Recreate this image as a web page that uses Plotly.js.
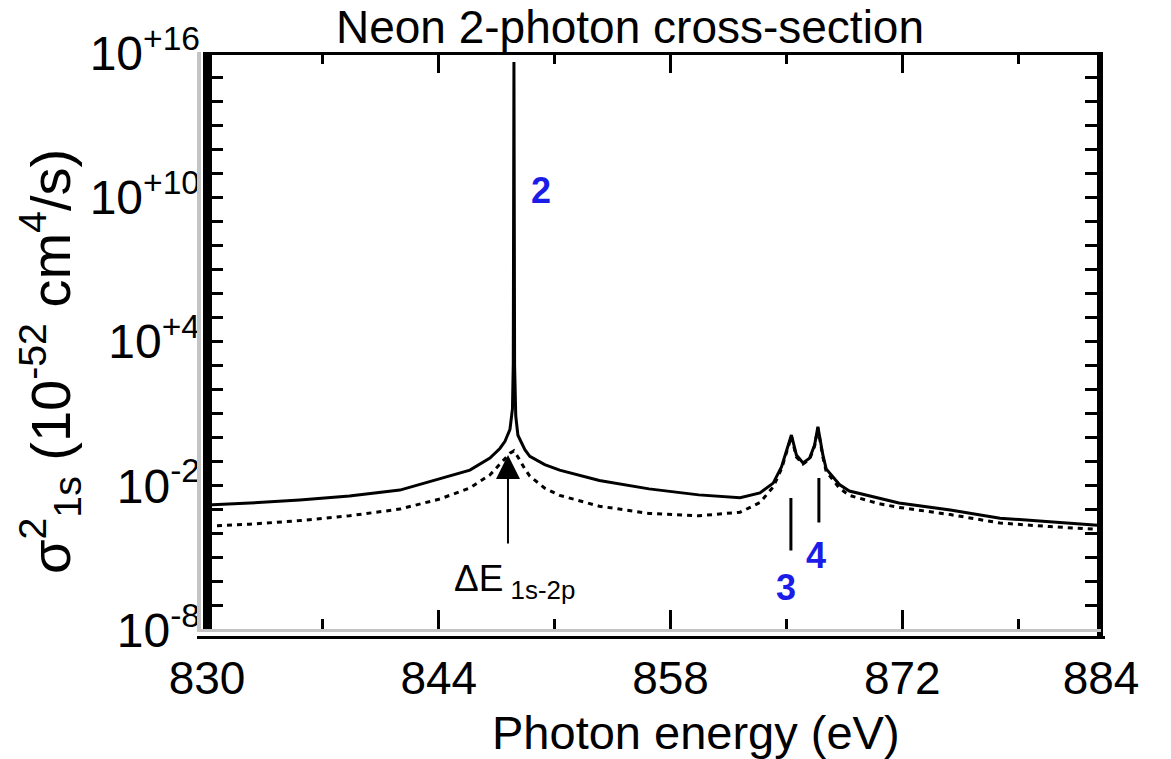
<!DOCTYPE html>
<html>
<head>
<meta charset="utf-8">
<script src="https://cdn.plot.ly/plotly-3.0.1.min.js"></script>
<style>html,body{margin:0;padding:0;background:#fff;}#chart{width:1171px;height:759px;}</style>
</head>
<body>
<div id="chart"></div>
<script>
// Photon energy (eV) for the solid curve
const energySolid = [830.0, 832.6, 835.6, 838.6, 841.65, 844.07, 845.88, 847.09, 847.69, 848.0, 848.3, 848.45, 848.50, 848.54, 848.58, 848.65, 848.78, 849.2, 849.5, 850.4, 851.3, 853.7, 856.7, 859.7, 862.2, 863.4, 864.2, 864.7, 865.0, 865.3, 865.6, 866.0, 866.4, 866.7, 866.9, 867.2, 867.4, 868.2, 868.8, 870.6, 871.8, 874.9, 877.9, 880.9, 884.0];
// sigma^2_1s (10^-52 cm^4/s), solid curve
const sigmaSolid = [1.58e-3, 1.91e-3, 2.57e-3, 3.72e-3, 6.61e-3, 1.91e-2, 4.47e-2, 0.141, 0.355, 0.708, 2.24, 15.8, 1.26e3, 4.27e15, 1.0e3, 7.94, 1.26, 0.316, 0.166, 7.59e-2, 4.47e-2, 1.66e-2, 7.41e-3, 4.17e-3, 3.16e-3, 5.01e-3, 1.29e-2, 6.03e-2, 0.309, 1.29, 0.191, 8.91e-2, 0.141, 0.490, 2.82, 0.191, 5.01e-2, 1.12e-2, 6.03e-3, 3.16e-3, 1.91e-3, 9.77e-4, 4.47e-4, 3.16e-4, 2.24e-4];
// Photon energy (eV) for the dotted curve
const energyDotted = [830.0, 832.6, 835.6, 838.6, 841.65, 844.07, 845.88, 847.09, 847.69, 848.0, 848.3, 848.54, 848.78, 849.2, 849.5, 850.4, 851.3, 853.7, 856.7, 859.7, 862.2, 863.4, 864.2, 864.7, 865.0, 865.3, 865.6, 866.0, 866.4, 866.7, 866.9, 867.2, 867.4, 868.2, 868.8, 870.6, 871.8, 874.9, 877.9, 880.9, 884.0];
// sigma^2_1s (10^-52 cm^4/s), dotted curve
const sigmaDotted = [2.09e-4, 2.51e-4, 3.55e-4, 5.62e-4, 1.07e-3, 2.82e-3, 8.13e-3, 2.82e-2, 7.94e-2, 0.141, 0.224, 0.282, 0.158, 5.01e-2, 2.51e-2, 7.94e-3, 3.98e-3, 1.41e-3, 7.08e-4, 5.62e-4, 7.94e-4, 2.00e-3, 8.91e-3, 5.01e-2, 0.251, 1.12, 0.158, 7.94e-2, 0.126, 0.447, 2.51, 0.158, 3.98e-2, 7.94e-3, 3.98e-3, 1.78e-3, 1.26e-3, 6.31e-4, 2.82e-4, 2.00e-4, 1.51e-4];

// Axis ticks
const xTickVals = [830, 844, 858, 872, 884];
const xTickText = ['830', '844', '858', '872', '884'];
const xMinorVals = [837, 851, 865, 879];
const yTickVals = [1e-8, 1e-2, 1e4, 1e10, 1e16];
const yTickText = ['10<sup>-8</sup>', '10<sup>-2</sup>', '10<sup>+4</sup>', '10<sup>+10</sup>', '10<sup>+16</sup>'];
const yMinorVals = [1e-7,1e-6,1e-5,1e-4,1e-3,1e-1,1e0,1e1,1e2,1e3,1e5,1e6,1e7,1e8,1e9,1e11,1e12,1e13,1e14,1e15];

const FONT = 'Liberation Sans, Arial, Helvetica, sans-serif';
const BLUE = '#1c1ce8';

const traces = [
  {x: energySolid, y: sigmaSolid, type: 'scatter', mode: 'lines', name: 'solid',
   line: {color: '#000', width: 3}, showlegend: false, hoverinfo: 'skip'},
  {x: energyDotted, y: sigmaDotted, type: 'scatter', mode: 'lines', name: 'dotted',
   line: {color: '#000', width: 3, dash: '5px,5px'}, showlegend: false, hoverinfo: 'skip'}
];

// frame helpers (pixel -> paper)
const L = 207, R = 1101, T = 53, B = 630;
const px = v => (v - L) / (R - L);
const py = v => (B - v) / (B - T);

const shapes = [
  {type:'line', xref:'paper', yref:'paper', x0:px(199), x1:px(199), y0:py(52), y1:py(632), line:{color:'#c4c4c4', width:4}},
  {type:'line', xref:'paper', yref:'paper', x0:px(207.5), x1:px(207.5), y0:py(52), y1:py(632), line:{color:'#000', width:9}},
  {type:'line', xref:'paper', yref:'paper', x0:px(207), x1:px(1103), y0:py(53.5), y1:py(53.5), line:{color:'#000', width:3}},
  {type:'line', xref:'paper', yref:'paper', x0:px(1100), x1:px(1100), y0:py(52), y1:py(638), line:{color:'#000', width:6}},
  {type:'line', xref:'paper', yref:'paper', x0:px(197), x1:px(1101), y0:py(630.5), y1:py(630.5), line:{color:'#c4c4c4', width:3}},
  {type:'line', xref:'paper', yref:'paper', x0:px(197), x1:px(1105), y0:py(637.5), y1:py(637.5), line:{color:'#000', width:3}}
];

const annotations = [
  // axis titles
  {x:px(696), y:py(732), xref:'paper', yref:'paper', text:'Photon energy (eV)', showarrow:false,
   xanchor:'center', yanchor:'middle', font:{family:FONT, size:47, color:'#000'}},
  {x:px(50), y:py(362), xref:'paper', yref:'paper', text:'σ<sup>2</sup><sub>1s</sub> (10<sup>-52</sup> cm<sup>4</sup>/s)', showarrow:false,
   textangle:-90, xanchor:'center', yanchor:'middle', font:{family:FONT, size:56, color:'#000'}},
  // labels
  {x:850.17, y:10.3, xref:'x', yref:'y', text:'<b>2</b>', showarrow:false, font:{family:FONT, size:36, color:BLUE}},
  {x:864.96, y:-6.25, xref:'x', yref:'y', text:'<b>3</b>', showarrow:false, font:{family:FONT, size:36, color:BLUE}},
  {x:866.78, y:-4.92, xref:'x', yref:'y', text:'<b>4</b>', showarrow:false, font:{family:FONT, size:36, color:BLUE}},
  {x:848.6, y:-5.95, xref:'x', yref:'y', text:'ΔE<sub> 1s-2p</sub>', showarrow:false, font:{family:FONT, size:37, color:'#000'}},
  // arrow pointing at the 1s-2p energy
  {x:848.18, y:-0.72, xref:'x', yref:'y', text:'', showarrow:true, ax:0, ay:90, arrowhead:2, arrowsize:2.4, arrowwidth:2, arrowcolor:'#000', standoff:0},
  // marker lines above labels 3 and 4
  {x:865.27, y:-2.51, xref:'x', yref:'y', text:'', showarrow:true, ax:0, ay:54, arrowhead:0, arrowwidth:3, arrowcolor:'#000', standoff:0},
  {x:866.96, y:-1.68, xref:'x', yref:'y', text:'', showarrow:true, ax:0, ay:46, arrowhead:0, arrowwidth:3, arrowcolor:'#000', standoff:0}
];

const layout = {
  width: 1171, height: 759,
  margin: {l: L, r: 1171 - R, t: T, b: 759 - B, pad: 0},
  paper_bgcolor: '#fff', plot_bgcolor: '#fff',
  font: {family: FONT, color: '#000'},
  title: {text: 'Neon 2-photon cross-section', font: {family: FONT, size: 46, color: '#000'},
          x: 630/1171, xref: 'container', xanchor: 'center', y: 1 - 27/759, yanchor: 'middle'},
  xaxis: {
    range: [830, 884], type: 'linear',
    tickvals: xTickVals, ticktext: xTickText,
    ticks: 'inside', ticklen: 20, tickwidth: 3, tickcolor: '#000',
    minor: {tickvals: xMinorVals, ticks: 'inside', ticklen: 11, tickwidth: 3, tickcolor: '#000'},
    mirror: 'ticks', showline: false, showgrid: false, zeroline: false,
    tickfont: {family: FONT, size: 46, color: '#000'},
    ticklabelstandoff: 17
  },
  yaxis: {
    type: 'log', range: [-8, 16],
    tickvals: yTickVals, ticktext: yTickText,
    ticks: 'inside', ticklen: 16, tickwidth: 3, tickcolor: '#000',
    minor: {tickvals: yMinorVals, ticks: 'inside', ticklen: 16, tickwidth: 3, tickcolor: '#000'},
    mirror: 'ticks', showline: false, showgrid: false, zeroline: false,
    tickfont: {family: FONT, size: 48, color: '#000'},
    ticklabelstandoff: 6
  },
  shapes: shapes,
  annotations: annotations,
  showlegend: false
};

Plotly.newPlot('chart', traces, layout, {staticPlot: true, displayModeBar: false});
</script>
</body>
</html>
